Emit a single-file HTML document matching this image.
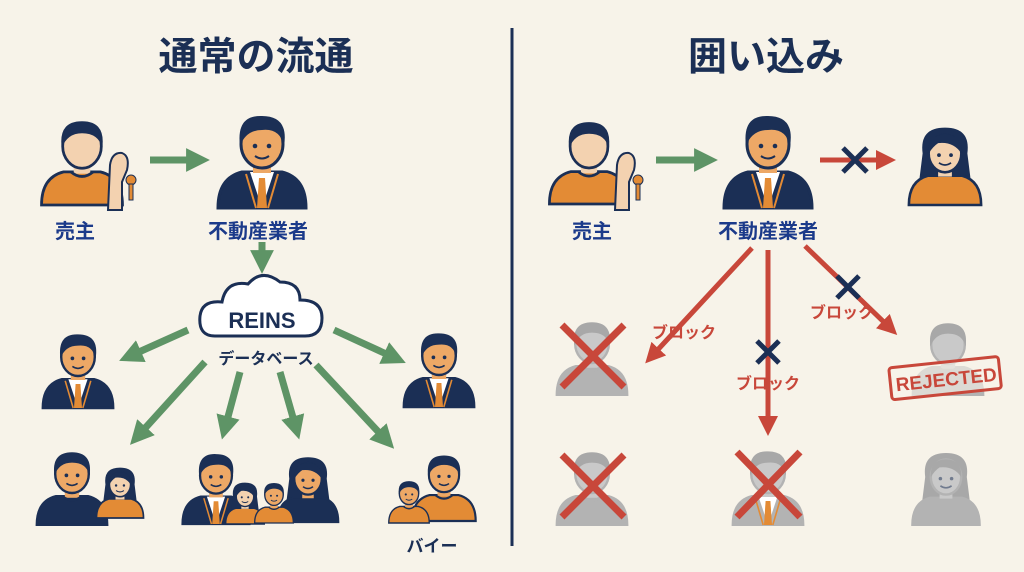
<!DOCTYPE html>
<html><head><meta charset="utf-8"><style>
html,body{margin:0;padding:0;background:#f7f3e9;}
svg{display:block;font-family:"Liberation Sans","Noto Sans CJK JP",sans-serif;}
.t{font-weight:bold;fill:#1b3a8a;}
</style></head><body>
<svg width="1024" height="572" viewBox="0 0 1024 572">
<defs>
<symbol id="man" viewBox="0 0 100 100">
<path d="M6 100 Q6 70 30 64 L70 64 Q94 70 94 100 Z" style="fill:var(--b)" stroke="var(--s)" stroke-width="3"/>
<rect x="41" y="50" width="18" height="16" style="fill:var(--k)"/>
<path d="M38 64 Q50 74 62 64" fill="none" stroke="var(--s)" stroke-width="3"/>
<ellipse cx="50" cy="36" rx="21" ry="24" style="fill:var(--k)" stroke="var(--s)" stroke-width="3"/>
<path d="M28 38 Q24 9 50 9 Q76 9 72 38 Q68 22 50 22 Q34 22 28 38Z" style="fill:var(--h)"/>
<g style="opacity:var(--f)"><circle cx="43" cy="38" r="2.3" fill="#1b2f55"/><circle cx="57" cy="38" r="2.3" fill="#1b2f55"/><path d="M43 48 Q50 53 57 48" fill="none" stroke="#1b2f55" stroke-width="2"/></g>
</symbol>
<symbol id="agent" viewBox="0 0 100 100">
<path d="M6 100 Q6 70 30 64 L70 64 Q94 70 94 100 Z" style="fill:var(--b)" stroke="var(--s)" stroke-width="3"/>
<path d="M38 64 L50 100 L62 64 Z" fill="#fff"/>
<path d="M47 70 L53 70 L55 100 L45 100Z" fill="#e38b35"/>
<path d="M34 66 L44 100 M66 66 L56 100" stroke="#e38b35" stroke-width="2" fill="none"/>
<rect x="41" y="50" width="18" height="15" style="fill:var(--k)"/>
<ellipse cx="50" cy="36" rx="21" ry="24" style="fill:var(--k)" stroke="var(--s)" stroke-width="3"/>
<path d="M28 38 Q24 7 50 8 Q77 8 72 38 Q68 20 50 22 Q34 22 28 38Z" style="fill:var(--h)"/>
<g style="opacity:var(--f)"><circle cx="43" cy="38" r="2.3" fill="#1b2f55"/><circle cx="57" cy="38" r="2.3" fill="#1b2f55"/><path d="M43 48 Q50 53 57 48" fill="none" stroke="#1b2f55" stroke-width="2"/></g>
</symbol>
<symbol id="woman" viewBox="0 0 100 100">
<path d="M24 40 Q20 10 50 10 Q80 10 76 40 L80 72 L20 72 Z" style="fill:var(--h)"/>
<path d="M8 100 Q8 72 30 66 L70 66 Q92 72 92 100 Z" style="fill:var(--b)" stroke="var(--s)" stroke-width="3"/>
<rect x="42" y="52" width="16" height="15" style="fill:var(--k)"/>
<ellipse cx="50" cy="40" rx="19" ry="22" style="fill:var(--k)" stroke="var(--s)" stroke-width="3"/>
<path d="M31 40 Q30 18 50 18 Q70 18 69 40 Q60 26 42 28 Q36 32 31 40Z" style="fill:var(--h)"/>
<g style="opacity:var(--f)"><circle cx="43" cy="42" r="2.2" fill="#1b2f55"/><circle cx="57" cy="42" r="2.2" fill="#1b2f55"/><path d="M43 51 Q50 56 57 51" fill="none" stroke="#1b2f55" stroke-width="2"/></g>
</symbol>
<marker id="ag" viewBox="0 0 10 10" refX="5" refY="5" markerWidth="3.4" markerHeight="3.4" orient="auto"><path d="M0 0L10 5L0 10Z" fill="#5e9466"/></marker>
<marker id="ar" viewBox="0 0 10 10" refX="5" refY="5" markerWidth="4" markerHeight="4" orient="auto"><path d="M0 0L10 5L0 10Z" fill="#c8473a"/></marker>
</defs>
<style>
.c{--b:#e38b35;--s:#1b2f55;--k:#f3d2b0;--h:#1b2f55;--f:0}
.a{--b:#1b2f55;--s:#1b2f55;--k:#eda866;--h:#1b2f55;--f:1}
.o{--b:#e38b35;--s:#1b2f55;--k:#eda866;--h:#1b2f55;--f:1}
.n{--b:#1b2f55;--s:#1b2f55;--k:#eda866;--h:#1b2f55;--f:1}
.w{--b:#e38b35;--s:#1b2f55;--k:#f3d2b0;--h:#1b2f55;--f:1}
.g{--b:#b3b3b3;--s:#b3b3b3;--k:#c9c9c9;--h:#a8a8a8;--f:0}
.gw{--b:#b3b3b3;--s:#b3b3b3;--k:#c9c9c9;--h:#a8a8a8;--f:.5}
.gl{stroke:#5e9466;stroke-width:7;marker-end:url(#ag)}
.rl{stroke:#c8473a;stroke-width:5;marker-end:url(#ar)}
.x{stroke:#c8473a;stroke-width:7;stroke-linecap:butt}
.nx{stroke:#1b2f55;stroke-width:5}
</style>
<rect width="1024" height="572" fill="#f7f3e9"/>
<line x1="512" y1="28" x2="512" y2="546" stroke="#1b2f55" stroke-width="3"/>
<text x="256" y="70" text-anchor="middle" font-size="39" font-weight="bold" fill="#1b2f55">通常の流通</text>
<text x="766" y="70" text-anchor="middle" font-size="39" font-weight="bold" fill="#1b2f55">囲い込み</text>

<!-- LEFT -->
<use href="#man" class="c" x="36" y="108" width="92" height="102"/>
<g stroke="#1b2f55" stroke-width="2" fill="#f3d2b0"><path d="M108 210 L110 165 Q112 152 122 153 Q130 156 127 170 L122 182 L122 210Z"/></g>
<g fill="#e38b35" stroke="#1b2f55" stroke-width="1"><circle cx="131" cy="180" r="5"/><rect x="129" y="184" width="4" height="16"/></g>
<line x1="150" y1="160" x2="198" y2="160" class="gl"/>
<use href="#agent" class="a" x="212" y="106" width="100" height="104"/>
<text x="75" y="238" text-anchor="middle" font-size="20" class="t">売主</text>
<text x="258" y="238" text-anchor="middle" font-size="20" class="t">不動産業者</text>
<line x1="262" y1="242" x2="262" y2="262" class="gl"/>
<path d="M215 336 Q198 336 200 316 Q202 300 222 302 Q226 280 248 284 Q262 268 280 282 Q300 282 300 300 Q322 300 322 318 Q322 336 305 336 Z" fill="#fff" stroke="#1b2f55" stroke-width="3"/>
<text x="262" y="328" text-anchor="middle" font-size="22" font-weight="bold" fill="#1b2f55">REINS</text>
<text x="266" y="364" text-anchor="middle" font-size="16" font-weight="bold" fill="#1b2f55">データベース</text>
<line x1="188" y1="330" x2="130" y2="356" class="gl"/>
<line x1="334" y1="330" x2="395" y2="358" class="gl"/>
<line x1="205" y1="362" x2="138" y2="436" class="gl"/>
<line x1="240" y1="372" x2="225" y2="428" class="gl"/>
<line x1="280" y1="372" x2="296" y2="428" class="gl"/>
<line x1="316" y1="365" x2="386" y2="440" class="gl"/>
<use href="#agent" class="a" x="38" y="326" width="80" height="84"/>
<use href="#agent" class="a" x="399" y="324" width="80" height="86"/>
<use href="#man" class="n" x="32" y="444" width="80" height="82"/>
<use href="#woman" class="w" x="92" y="454" width="56" height="72"/>
<use href="#agent" class="a" x="178" y="446" width="76" height="80"/>
<use href="#woman" class="n" x="272" y="446" width="72" height="80"/>
<use href="#woman" class="w" x="222" y="476" width="46" height="50"/>
<use href="#man" class="o" x="252" y="476" width="44" height="50"/>
<use href="#man" class="o" x="408" y="444" width="72" height="82"/>
<use href="#man" class="o" x="386" y="474" width="46" height="52"/>
<text x="432" y="552" text-anchor="middle" font-size="17" font-weight="bold" fill="#1b2f55">バイー</text>

<!-- RIGHT -->
<use href="#man" class="c" x="544" y="108" width="90" height="102"/>
<g stroke="#1b2f55" stroke-width="2" fill="#f3d2b0"><path d="M615 210 L617 165 Q619 152 629 153 Q637 156 634 170 L629 182 L629 210Z"/></g>
<g fill="#e38b35" stroke="#1b2f55" stroke-width="1"><circle cx="638" cy="180" r="5"/><rect x="636" y="184" width="4" height="16"/></g>
<line x1="656" y1="160" x2="706" y2="160" class="gl"/>
<use href="#agent" class="a" x="718" y="106" width="100" height="104"/>
<line x1="820" y1="160" x2="886" y2="160" class="rl"/>
<path d="M843 148 L867 172 M867 148 L843 172" class="nx"/>
<use href="#woman" class="w" x="902" y="114" width="86" height="96"/>
<text x="592" y="238" text-anchor="middle" font-size="20" class="t">売主</text>
<text x="768" y="238" text-anchor="middle" font-size="20" class="t">不動産業者</text>
<line x1="752" y1="248" x2="652" y2="356" class="rl"/>
<line x1="768" y1="250" x2="768" y2="426" class="rl"/>
<line x1="805" y1="246" x2="890" y2="328" class="rl"/>
<path d="M757 341 L779 363 M779 341 L757 363" class="nx"/>
<path d="M837 276 L859 298 M859 276 L837 298" class="nx"/>
<text x="684" y="338" text-anchor="middle" font-size="16" font-weight="bold" fill="#c8473a">ブロック</text>
<text x="768" y="389" text-anchor="middle" font-size="16" font-weight="bold" fill="#c8473a">ブロック</text>
<text x="842" y="318" text-anchor="middle" font-size="16" font-weight="bold" fill="#c8473a">ブロック</text>
<use href="#man" class="g" x="552" y="314" width="80" height="82"/>
<path d="M562 325 L624 387 M624 325 L562 387" class="x"/>
<use href="#man" class="g" x="552" y="444" width="80" height="82"/>
<path d="M562 455 L624 517 M624 455 L562 517" class="x"/>
<use href="#agent" class="g" x="728" y="444" width="80" height="82"/>
<path d="M737 452 L800 517 M800 452 L737 517" class="x"/>
<use href="#man" class="g" x="908" y="316" width="80" height="80"/>
<g transform="rotate(-6 946 377)">
<rect x="890" y="362" width="110" height="32" rx="3" fill="#f7f3e9" fill-opacity=".6" stroke="#c8473a" stroke-width="3"/>
<text x="946" y="386" text-anchor="middle" font-size="19" font-weight="bold" fill="#c8473a">REJECTED</text>
</g>
<use href="#woman" class="gw" x="906" y="444" width="80" height="82"/>
</svg>
</body></html>
